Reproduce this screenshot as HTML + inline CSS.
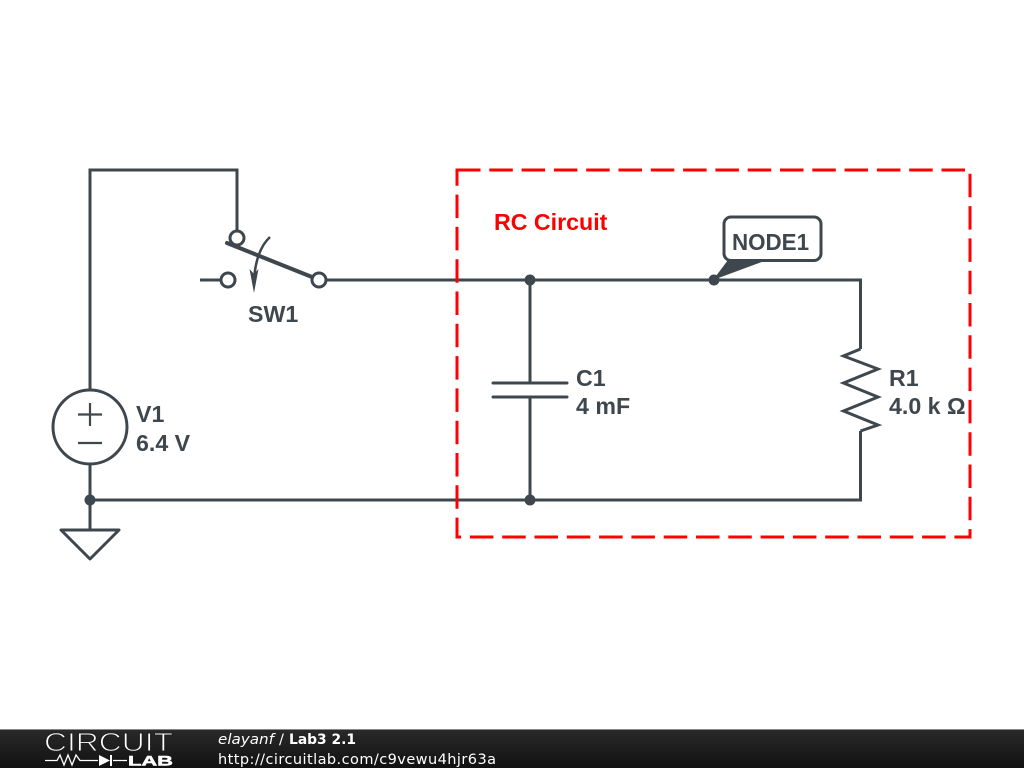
<!DOCTYPE html>
<html>
<head>
<meta charset="utf-8">
<style>
html,body{margin:0;padding:0;background:#fff;width:1024px;height:768px;overflow:hidden}
svg{display:block}
.l{font-family:"Liberation Sans",sans-serif;font-weight:bold;font-size:23.2px;fill:#3e474d}
.f{font-family:"DejaVu Sans",sans-serif;font-size:14.5px;fill:#fff}
</style>
</head>
<body>
<svg width="1024" height="768" viewBox="0 0 1024 768" xmlns="http://www.w3.org/2000/svg">
<defs>
<linearGradient id="g" x1="0" y1="0" x2="0" y2="1"><stop offset="0" stop-color="#2a2a2a"/><stop offset="1" stop-color="#111"/></linearGradient>
</defs>
<rect width="1024" height="768" fill="#fff"/>
<g fill="none" stroke="#3e474d" stroke-width="3">
<path d="M90 390V170H237V232"/>
<path d="M327 280H860.500V349"/>
<path d="M860.500 431V500H90"/>
<path d="M90 464V530"/>
<path d="M530 280V383M530 397V500"/>
<path d="M493 383H567M493 397H567" stroke-linecap="round"/>
<path d="M860.500 349L843.500 356L878 369L843.500 383L878 397L843.500 411L878 425L860.500 431" stroke-linejoin="miter"/>
<circle cx="90" cy="427" r="37"/>
<path d="M78 414.500H102M90 403V426M78 443H102" stroke-width="2.200"/>
<path d="M61 530H119L90 559Z" stroke-linejoin="round"/>
<circle cx="237" cy="238" r="7"/>
<circle cx="228" cy="280" r="7"/>
<circle cx="319" cy="280" r="7"/>
<path d="M200 280H221"/>
<path d="M227 243L312 277" stroke-width="4" stroke-linecap="round"/>
<path d="M270 237Q256 250 254 280" stroke-width="2.500"/>
<rect x="724" y="217" width="97" height="43.500" rx="7" fill="#fff"/>
</g>
<path d="M249.500 269L254 274L258.500 269L254 293Z" fill="#3e474d"/>
<path d="M713 280L728 260H767Z" fill="#3e474d"/>
<circle cx="714" cy="280" r="5.500" fill="#3e474d"/>
<circle cx="530" cy="280" r="5.500" fill="#3e474d"/>
<circle cx="530" cy="500" r="5.500" fill="#3e474d"/>
<circle cx="90" cy="500" r="5.500" fill="#3e474d"/>
<path d="M457 170H970V537H457Z" fill="none" stroke="#f00" stroke-width="3" stroke-dasharray="23.500 8.800"/>
<text class="l" x="248" y="322">SW1</text>
<text class="l" x="136" y="422">V1</text>
<text class="l" x="136" y="451">6.4 V</text>
<text class="l" x="576" y="386">C1</text>
<text class="l" x="576" y="414">4 mF</text>
<text class="l" x="889" y="386">R1</text>
<text class="l" x="889" y="414">4.0 k Ω</text>
<text class="l" x="732" y="250" textLength="77" lengthAdjust="spacingAndGlyphs">NODE1</text>
<text class="l" x="494" y="230" style="fill:#f00">RC Circuit</text>
<rect y="729" width="1024" height="39" fill="url(#g)"/>
<rect y="729" width="1024" height="1" fill="#888"/>
<text x="44" y="751" font-family="Liberation Sans,sans-serif" font-size="26" fill="#fff" stroke="#1f1f1f" stroke-width="1" textLength="129" lengthAdjust="spacingAndGlyphs">CIRCUIT</text>
<path d="M45 760.500H57L60 755L64 765L68 755L72 765L76 755L80 760.500H98M113 760.500H127" fill="none" stroke="#fff" stroke-width="1.300"/>
<path d="M99 755L110 760.500L99 766Z M110 755H112V766H110Z" fill="#fff"/>
<text x="128" y="765.500" font-family="Liberation Sans,sans-serif" font-weight="bold" font-size="14" fill="#fff" stroke="#fff" stroke-width=".5" textLength="45" lengthAdjust="spacingAndGlyphs">LAB</text>
<text class="f" x="218" y="744" font-style="italic" textLength="56" lengthAdjust="spacingAndGlyphs">elayanf</text>
<text class="f" x="279" y="744">/</text>
<text class="f" x="289" y="744" font-weight="bold" textLength="67" lengthAdjust="spacingAndGlyphs">Lab3 2.1</text>
<text class="f" x="218" y="764" textLength="278">http://circuitlab.com/c9vewu4hjr63a</text>
</svg>
</body>
</html>
